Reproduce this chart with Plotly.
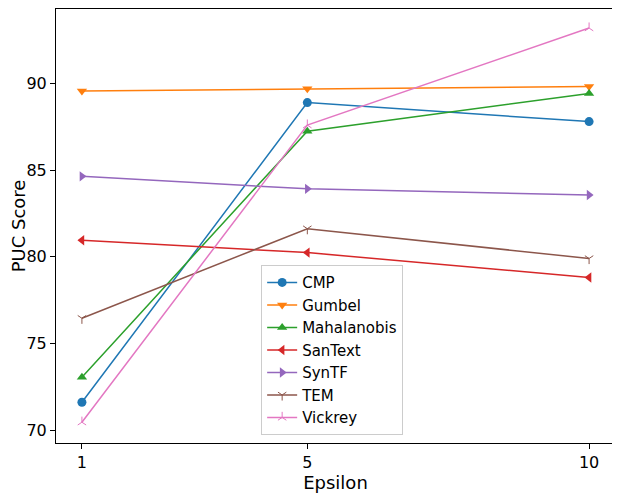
import plotly.graph_objects as go

# valori
epsilon = [1, 5, 10]
metodi = ["CMP", "Gumbel", "Mahalanobis", "SanText", "SynTF", "TEM", "Vickrey"]
cmp_vals = [71.6, 88.9, 87.8]
gumbel_vals = [89.57, 89.7, 89.83]
mahalanobis_vals = [73.05, 87.25, 89.42]
santext_vals = [80.95, 80.24, 78.8]
syntf_vals = [84.64, 83.92, 83.56]
tem_vals = [76.45, 81.62, 79.9]
vickrey_vals = [70.45, 87.6, 93.2]

serie = [cmp_vals, gumbel_vals, mahalanobis_vals, santext_vals, syntf_vals, tem_vals, vickrey_vals]
colori = ["#1f77b4", "#ff7f0e", "#2ca02c", "#d62728", "#9467bd", "#8c564b", "#e377c2"]
simboli = ["circle", "triangle-down", "triangle-up", "triangle-left", "triangle-right", "y-down", "y-up"]

fig = go.Figure()
for nome, valori, colore, simbolo in zip(metodi, serie, colori, simboli):
    aperto = simbolo.startswith("y-")
    fig.add_trace(go.Scatter(
        x=epsilon, y=valori, mode="lines+markers", name=nome,
        line=dict(color=colore, width=1.5),
        marker=dict(symbol=simbolo, size=9 if not aperto else 7, color=colore,
                    line=dict(color=colore, width=1 if aperto else 0)),
    ))

asse = dict(showgrid=False, zeroline=False, showline=True, linecolor="black", linewidth=1,
            mirror=True, ticks="outside", ticklen=5, tickcolor="black", automargin=False,
            tickfont=dict(size=16, color="black"))

# la pagina ha ~7px di margine: figura un po' piu' piccola
fig.update_layout(
    width=612, height=485,
    margin=dict(l=48, r=5, t=1, b=50),
    paper_bgcolor="white", plot_bgcolor="white",
    font=dict(family="DejaVu Sans", color="black"),
    xaxis=dict(asse, range=[0.54, 10.46], tickvals=epsilon,
               title=dict(text="Epsilon", font=dict(size=18), standoff=0)),
    yaxis=dict(asse, range=[69.25, 94.3], tickvals=[70, 75, 80, 85, 90],
               title=dict(text="PUC Score", font=dict(size=18), standoff=3)),
    legend=dict(x=0.367, y=0.018, xanchor="left", yanchor="bottom",
                bgcolor="rgba(255,255,255,0.8)", bordercolor="#cccccc", borderwidth=1,
                font=dict(size=15), tracegroupgap=0, itemwidth=30),
    showlegend=True,
)

fig.write_html("out.html")
